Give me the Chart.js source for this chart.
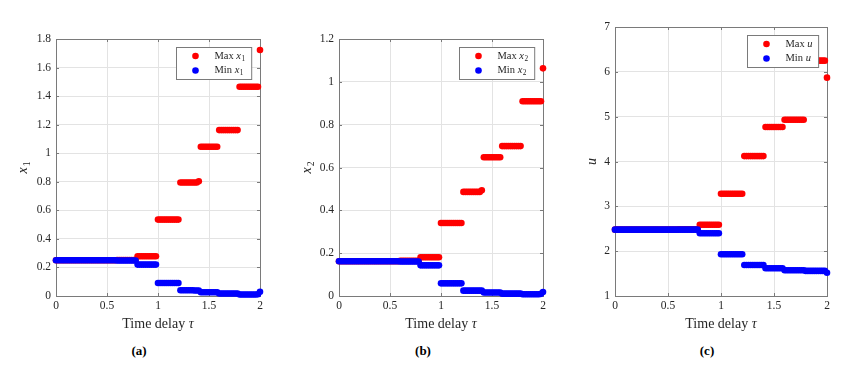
<!DOCTYPE html>
<html>
<head>
<meta charset="utf-8">
<script src="https://cdn.jsdelivr.net/npm/chart.js@4/dist/chart.umd.min.js"></script>
<style>
  html, body { margin: 0; padding: 0; background: #fff; }
  body { width: 859px; height: 367px; position: relative; overflow: hidden; }
  canvas { position: absolute; top: 0; }
  .tag { position: absolute; top: 343px; font: bold 13px "Liberation Serif", serif; color: #000; transform: translateX(-50%); }
</style>
</head>
<body>
<canvas id="ca" width="280" height="340" style="left:0px"></canvas>
<canvas id="cb" width="280" height="340" style="left:280px"></canvas>
<canvas id="cc" width="299" height="340" style="left:560px"></canvas>
<div class="tag" style="left:139px">(a)</div>
<div class="tag" style="left:423px">(b)</div>
<div class="tag" style="left:707px">(c)</div>
<script>
// time delay samples
const tau = [
  0, 0.02, 0.04, 0.06, 0.08, 0.1, 0.12, 0.14, 0.16, 0.18,
  0.2, 0.22, 0.24, 0.26, 0.28, 0.3, 0.32, 0.34, 0.36, 0.38,
  0.4, 0.42, 0.44, 0.46, 0.48, 0.5, 0.52, 0.54, 0.56, 0.58,
  0.6, 0.62, 0.64, 0.66, 0.68, 0.7, 0.72, 0.74, 0.76, 0.78,
  0.8, 0.82, 0.84, 0.86, 0.88, 0.9, 0.92, 0.94, 0.96, 0.98,
  1, 1.02, 1.04, 1.06, 1.08, 1.1, 1.12, 1.14, 1.16, 1.18,
  1.2, 1.22, 1.24, 1.26, 1.28, 1.3, 1.32, 1.34, 1.36, 1.38,
  1.4, 1.42, 1.44, 1.46, 1.48, 1.5, 1.52, 1.54, 1.56, 1.58,
  1.6, 1.62, 1.64, 1.66, 1.68, 1.7, 1.72, 1.74, 1.76, 1.78,
  1.8, 1.82, 1.84, 1.86, 1.88, 1.9, 1.92, 1.94, 1.96, 1.98,
  2
];

const maxX1 = [
  0.25, 0.25, 0.25, 0.25, 0.25, 0.25, 0.25, 0.25, 0.25, 0.25,
  0.25, 0.25, 0.25, 0.25, 0.25, 0.25, 0.25, 0.25, 0.25, 0.25,
  0.25, 0.25, 0.25, 0.25, 0.25, 0.25, 0.25, 0.25, 0.25, 0.25,
  0.252, 0.252, 0.252, 0.252, 0.252, 0.252, 0.252, 0.252, 0.252, 0.252,
  0.278, 0.278, 0.278, 0.278, 0.278, 0.278, 0.278, 0.278, 0.278, 0.278,
  0.535, 0.535, 0.535, 0.535, 0.535, 0.535, 0.535, 0.535, 0.535, 0.535,
  0.535, 0.795, 0.795, 0.795, 0.795, 0.795, 0.795, 0.795, 0.795, 0.795,
  0.804, 1.045, 1.045, 1.045, 1.045, 1.045, 1.045, 1.045, 1.045, 1.045,
  1.162, 1.162, 1.162, 1.162, 1.162, 1.162, 1.162, 1.162, 1.162, 1.162,
  1.466, 1.466, 1.466, 1.466, 1.466, 1.466, 1.466, 1.466, 1.466, 1.466,
  1.723
];
const minX1 = [
  0.25, 0.25, 0.25, 0.25, 0.25, 0.25, 0.25, 0.25, 0.25, 0.25,
  0.25, 0.25, 0.25, 0.25, 0.25, 0.25, 0.25, 0.25, 0.25, 0.25,
  0.25, 0.25, 0.25, 0.25, 0.25, 0.25, 0.25, 0.25, 0.25, 0.25,
  0.249, 0.249, 0.249, 0.249, 0.249, 0.249, 0.249, 0.249, 0.249, 0.249,
  0.22, 0.22, 0.22, 0.22, 0.22, 0.22, 0.22, 0.22, 0.22, 0.22,
  0.091, 0.091, 0.091, 0.091, 0.091, 0.091, 0.091, 0.091, 0.091, 0.091,
  0.091, 0.04, 0.04, 0.04, 0.04, 0.04, 0.04, 0.04, 0.039, 0.038,
  0.038, 0.026, 0.026, 0.026, 0.026, 0.026, 0.026, 0.026, 0.026, 0.026,
  0.017, 0.017, 0.017, 0.017, 0.017, 0.017, 0.017, 0.017, 0.017, 0.017,
  0.01, 0.01, 0.01, 0.01, 0.01, 0.01, 0.01, 0.01, 0.01, 0.012,
  0.03
];

const maxX2 = [
  0.162, 0.162, 0.162, 0.162, 0.162, 0.162, 0.162, 0.162, 0.162, 0.162,
  0.162, 0.162, 0.162, 0.162, 0.162, 0.162, 0.162, 0.162, 0.162, 0.162,
  0.162, 0.162, 0.162, 0.162, 0.162, 0.162, 0.162, 0.162, 0.162, 0.162,
  0.164, 0.164, 0.164, 0.164, 0.164, 0.164, 0.164, 0.164, 0.164, 0.164,
  0.181, 0.181, 0.181, 0.181, 0.181, 0.181, 0.181, 0.181, 0.181, 0.181,
  0.341, 0.341, 0.341, 0.341, 0.341, 0.341, 0.341, 0.341, 0.341, 0.341,
  0.341, 0.486, 0.486, 0.486, 0.486, 0.486, 0.486, 0.486, 0.486, 0.486,
  0.494, 0.648, 0.648, 0.648, 0.648, 0.648, 0.648, 0.648, 0.648, 0.648,
  0.7, 0.7, 0.7, 0.7, 0.7, 0.7, 0.7, 0.7, 0.7, 0.7,
  0.909, 0.909, 0.909, 0.909, 0.909, 0.909, 0.909, 0.909, 0.909, 0.909,
  1.063
];
const minX2 = [
  0.162, 0.162, 0.162, 0.162, 0.162, 0.162, 0.162, 0.162, 0.162, 0.162,
  0.162, 0.162, 0.162, 0.162, 0.162, 0.162, 0.162, 0.162, 0.162, 0.162,
  0.162, 0.162, 0.162, 0.162, 0.162, 0.162, 0.162, 0.162, 0.162, 0.162,
  0.161, 0.161, 0.161, 0.161, 0.161, 0.161, 0.161, 0.161, 0.161, 0.161,
  0.143, 0.143, 0.143, 0.143, 0.143, 0.143, 0.143, 0.143, 0.143, 0.143,
  0.059, 0.059, 0.059, 0.059, 0.059, 0.059, 0.059, 0.059, 0.059, 0.059,
  0.059, 0.025, 0.025, 0.025, 0.025, 0.025, 0.025, 0.025, 0.025, 0.025,
  0.025, 0.016, 0.016, 0.016, 0.016, 0.016, 0.016, 0.016, 0.016, 0.016,
  0.011, 0.011, 0.011, 0.011, 0.011, 0.011, 0.011, 0.011, 0.011, 0.011,
  0.008, 0.008, 0.008, 0.008, 0.008, 0.008, 0.008, 0.008, 0.008, 0.01,
  0.019
];

const maxU = [
  2.48, 2.48, 2.48, 2.48, 2.48, 2.48, 2.48, 2.48, 2.48, 2.48,
  2.48, 2.48, 2.48, 2.48, 2.48, 2.48, 2.48, 2.48, 2.48, 2.48,
  2.48, 2.48, 2.48, 2.48, 2.48, 2.48, 2.48, 2.48, 2.48, 2.48,
  2.49, 2.49, 2.49, 2.49, 2.49, 2.49, 2.49, 2.49, 2.49, 2.49,
  2.59, 2.59, 2.59, 2.59, 2.59, 2.59, 2.59, 2.59, 2.59, 2.59,
  3.28, 3.28, 3.28, 3.28, 3.28, 3.28, 3.28, 3.28, 3.28, 3.28,
  3.28, 4.12, 4.12, 4.12, 4.12, 4.12, 4.12, 4.12, 4.12, 4.12,
  4.12, 4.77, 4.77, 4.77, 4.77, 4.77, 4.77, 4.77, 4.77, 4.77,
  4.93, 4.93, 4.93, 4.93, 4.93, 4.93, 4.93, 4.93, 4.93, 4.93,
  6.25, 6.25, 6.25, 6.25, 6.25, 6.25, 6.25, 6.25, 6.25, 6.25,
  5.87
];
const minU = [
  2.48, 2.48, 2.48, 2.48, 2.48, 2.48, 2.48, 2.48, 2.48, 2.48,
  2.48, 2.48, 2.48, 2.48, 2.48, 2.48, 2.48, 2.48, 2.48, 2.48,
  2.48, 2.48, 2.48, 2.48, 2.48, 2.48, 2.48, 2.48, 2.48, 2.48,
  2.48, 2.48, 2.48, 2.48, 2.48, 2.48, 2.48, 2.48, 2.48, 2.48,
  2.4, 2.4, 2.4, 2.4, 2.4, 2.4, 2.4, 2.4, 2.4, 2.4,
  1.93, 1.93, 1.93, 1.93, 1.93, 1.93, 1.93, 1.93, 1.93, 1.93,
  1.93, 1.69, 1.69, 1.69, 1.69, 1.69, 1.69, 1.69, 1.69, 1.69,
  1.69, 1.62, 1.62, 1.62, 1.62, 1.62, 1.62, 1.62, 1.62, 1.62,
  1.575, 1.575, 1.575, 1.575, 1.575, 1.575, 1.575, 1.575, 1.575, 1.575,
  1.56, 1.56, 1.56, 1.56, 1.56, 1.56, 1.56, 1.56, 1.56, 1.56,
  1.52
];

// tick labels
const xTicks = [0, 0.5, 1, 1.5, 2];
const yTicksA = [0, 0.2, 0.4, 0.6, 0.8, 1, 1.2, 1.4, 1.6, 1.8];
const yTicksB = [0, 0.2, 0.4, 0.6, 0.8, 1, 1.2];
const yTicksC = [1, 2, 3, 4, 5, 6, 7];

const SERIF = '"Liberation Serif", "DejaVu Serif", serif';
const TEXT = '#262626';
const AXIS = '#7a7a7a';

// draws the MATLAB-ish box, inward ticks, legend and axis titles
const decoPlugin = {
  id: 'deco',
  beforeDatasetsDraw(chart) {
    const ctx = chart.ctx, a = chart.chartArea;
    const xs = chart.scales.x, ys = chart.scales.y;
    ctx.save();
    ctx.strokeStyle = AXIS;
    ctx.lineWidth = 1;
    ctx.strokeRect(Math.round(a.left) + 0.5, Math.round(a.top) + 0.5,
      Math.round(a.right - a.left), Math.round(a.bottom - a.top));
    ctx.beginPath();
    xs.ticks.forEach(t => {
      const px = Math.round(xs.getPixelForValue(t.value)) + 0.5;
      ctx.moveTo(px, a.bottom); ctx.lineTo(px, a.bottom - 3);
      ctx.moveTo(px, a.top); ctx.lineTo(px, a.top + 3);
    });
    ys.ticks.forEach(t => {
      const py = Math.round(ys.getPixelForValue(t.value)) + 0.5;
      ctx.moveTo(a.left, py); ctx.lineTo(a.left + 3, py);
      ctx.moveTo(a.right, py); ctx.lineTo(a.right - 3, py);
    });
    ctx.stroke();
    ctx.restore();
  },
  afterDatasetsDraw(chart, args, opts) {
    const ctx = chart.ctx, a = chart.chartArea;
    ctx.save();
    const fs = 10.5;
    ctx.font = fs + 'px ' + SERIF;
    let tw = ctx.measureText('Max ').width;
    ctx.font = 'italic ' + fs + 'px ' + SERIF;
    tw += ctx.measureText(opts.sym).width;
    if (opts.sub) {
      ctx.font = (fs * 0.7) + 'px ' + SERIF;
      tw += ctx.measureText(opts.sub).width + 1;
    }
    const bw = 38 + tw + 6, bh = 32;
    const bx = Math.round(a.right - 9 - bw) + 0.5, by = Math.round(a.top + 8) + 0.5;
    ctx.fillStyle = '#fff';
    ctx.fillRect(bx, by, bw, bh);
    ctx.strokeStyle = AXIS;
    ctx.lineWidth = 1;
    ctx.strokeRect(bx, by, bw, bh);
    const rows = [['Max ', '#ff0000', 8.5], ['Min ', '#0000ff', 23]];
    rows.forEach(([word, col, dy]) => {
      const cy = by + dy;
      ctx.fillStyle = col;
      ctx.beginPath();
      ctx.arc(bx + 19, cy, 3.3, 0, Math.PI * 2);
      ctx.fill();
      ctx.fillStyle = TEXT;
      ctx.textBaseline = 'middle';
      ctx.textAlign = 'left';
      let x = bx + 38;
      ctx.font = fs + 'px ' + SERIF;
      ctx.fillText(word, x, cy);
      x += ctx.measureText(word).width;
      ctx.font = 'italic ' + fs + 'px ' + SERIF;
      ctx.fillText(opts.sym, x, cy);
      x += ctx.measureText(opts.sym).width + 0.5;
      if (opts.sub) {
        ctx.font = (fs * 0.7) + 'px ' + SERIF;
        ctx.fillText(opts.sub, x, cy + 3);
      }
    });
    ctx.restore();
  },
  afterDraw(chart, args, opts) {
    const ctx = chart.ctx, a = chart.chartArea;
    ctx.save();
    ctx.fillStyle = TEXT;
    ctx.textBaseline = 'middle';
    // x title: "Time delay τ"
    const fs = 14;
    ctx.font = fs + 'px ' + SERIF;
    const w1 = ctx.measureText('Time delay ').width;
    ctx.font = 'italic ' + fs + 'px ' + SERIF;
    const w2 = ctx.measureText('τ').width;
    let x = (a.left + a.right) / 2 - (w1 + w2) / 2;
    ctx.textAlign = 'left';
    ctx.font = fs + 'px ' + SERIF;
    ctx.fillText('Time delay ', x, 324);
    ctx.font = 'italic ' + fs + 'px ' + SERIF;
    ctx.fillText('τ', x + w1, 324);
    // y title, rotated
    ctx.translate(a.left - opts.yOff, (a.top + a.bottom) / 2);
    ctx.rotate(-Math.PI / 2);
    ctx.font = 'italic ' + fs + 'px ' + SERIF;
    const ws = ctx.measureText(opts.sym).width;
    ctx.font = (fs * 0.7) + 'px ' + SERIF;
    const wb = opts.sub ? ctx.measureText(opts.sub).width + 1 : 0;
    const sx = -(ws + wb) / 2;
    ctx.font = 'italic ' + fs + 'px ' + SERIF;
    ctx.fillText(opts.sym, sx, 0);
    if (opts.sub) {
      ctx.font = (fs * 0.7) + 'px ' + SERIF;
      ctx.fillText(opts.sub, sx + ws + 1, 4);
    }
    ctx.restore();
  }
};

function makeChart(id, maxVals, minVals, yTicks, box, deco) {
  const toPts = vals => tau.map((t, i) => ({ x: t, y: vals[i] }));
  const tickFont = { family: SERIF, size: 11.5 };
  return new Chart(document.getElementById(id), {
    type: 'scatter',
    data: {
      datasets: [
        // higher order is drawn underneath, so the blue min series sits on top
        { label: 'Max', order: 1, data: toPts(maxVals), backgroundColor: '#ff0000', borderWidth: 0, pointRadius: 3.3, clip: false },
        { label: 'Min', order: 0, data: toPts(minVals), backgroundColor: '#0000ff', borderWidth: 0, pointRadius: 3.3, clip: false }
      ]
    },
    options: {
      responsive: false,
      animation: false,
      events: [],
      layout: { padding: { left: 0, right: box.right, top: box.top, bottom: 0 } },
      plugins: { legend: { display: false }, tooltip: { enabled: false }, deco: deco },
      scales: {
        x: {
          type: 'linear',
          min: xTicks[0], max: xTicks[xTicks.length - 1],
          afterBuildTicks: s => { s.ticks = xTicks.map(v => ({ value: v })); },
          afterFit: s => { s.height = 44; },
          ticks: { color: TEXT, font: tickFont, padding: 3, maxRotation: 0, autoSkip: false, callback: v => String(v) },
          grid: { color: '#e3e3e3', drawTicks: false },
          border: { display: false }
        },
        y: {
          type: 'linear',
          min: yTicks[0], max: yTicks[yTicks.length - 1],
          afterBuildTicks: s => { s.ticks = yTicks.map(v => ({ value: v })); },
          afterFit: s => { s.width = box.left; },
          ticks: { color: TEXT, font: tickFont, padding: 5, autoSkip: false, callback: v => String(v) },
          grid: { color: '#e3e3e3', drawTicks: false },
          border: { display: false }
        }
      }
    },
    plugins: [decoPlugin]
  });
}

makeChart('ca', maxX1, minX1, yTicksA, { left: 56, right: 20, top: 39 }, { sym: 'x', sub: '1', yOff: 33 });
makeChart('cb', maxX2, minX2, yTicksB, { left: 59, right: 17, top: 39 }, { sym: 'x', sub: '2', yOff: 32 });
makeChart('cc', maxU, minU, yTicksC, { left: 55, right: 32, top: 27 }, { sym: 'u', sub: '', yOff: 23 });
</script>
</body>
</html>
